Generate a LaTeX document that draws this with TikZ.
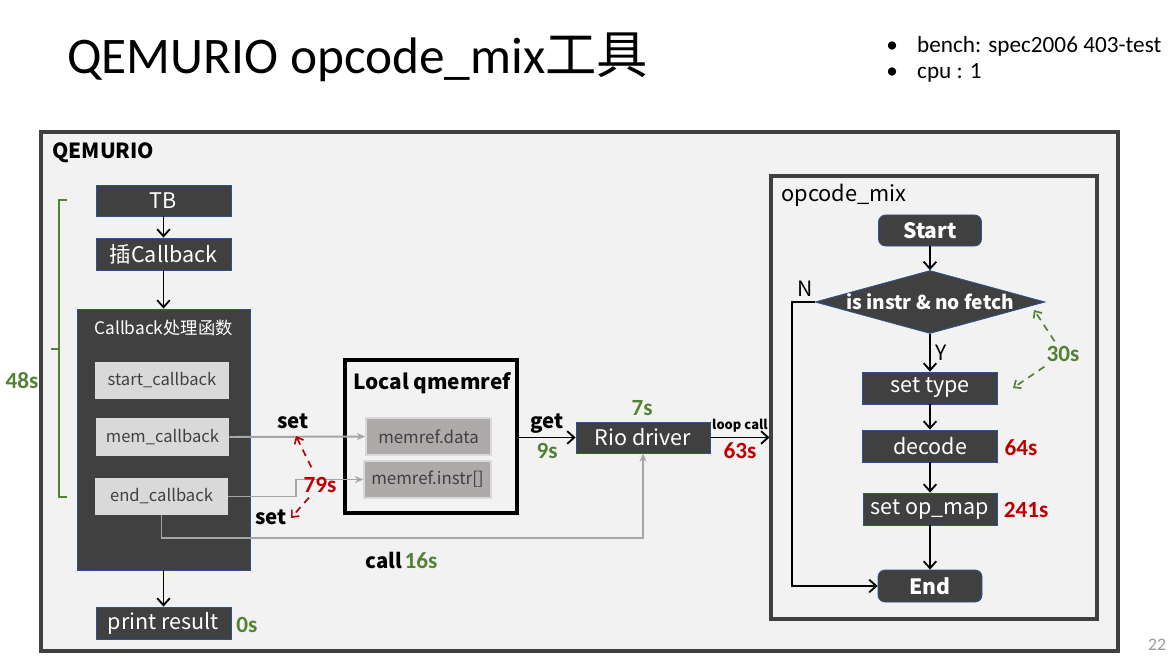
\documentclass[tikz,border=0pt]{standalone}
\usepackage{fontspec}
\setmainfont{Noto Sans CJK SC}
\newfontfamily\calfont{Carlito}
\usetikzlibrary{arrows.meta,shapes.geometric,positioning,calc}

\definecolor{boxdark}{RGB}{64,64,64}
\definecolor{boxedge}{RGB}{47,82,143}
\definecolor{panel}{RGB}{242,242,242}
\definecolor{cbgray}{RGB}{217,217,217}
\definecolor{memgray}{RGB}{174,170,170}
\definecolor{txtgray}{RGB}{64,64,64}
\definecolor{tgreen}{RGB}{84,130,53}
\definecolor{tred}{RGB}{192,0,0}
\definecolor{wire}{RGB}{166,166,166}

\begin{document}
\begin{tikzpicture}[x=0.025cm,y=-0.025cm,
  sz/.style 2 args={minimum width=#1*0.025cm,minimum height=#2*0.025cm},
  frame/.style={draw=boxdark,fill=panel,line width=2.2pt,inner sep=0pt},
  dbox/.style={draw=boxedge,line width=0.6pt,fill=boxdark,text=white,inner sep=0pt,font=\fontsize{15.3}{18}\selectfont},
  lbox/.style={fill=cbgray,text=txtgray,inner sep=0pt,font=\fontsize{11.8}{14}\selectfont},
  mbox/.style={fill=memgray,draw=cbgray,line width=1pt,text=txtgray,inner sep=0pt,font=\fontsize{12}{14}\selectfont},
  hd/.style={font=\bfseries\fontsize{14.8}{17}\selectfont},
  wlbl/.style={font=\bfseries\fontsize{14.5}{17}\selectfont},
  gnum/.style={text=tgreen,font=\calfont\bfseries\fontsize{16.5}{18}\selectfont},
  rnum/.style={text=tred,font=\calfont\bfseries\fontsize{16.5}{18}\selectfont},
  arr/.style={-{Straight Barb[length=5pt,width=9pt]},line width=1.3pt},
  garr/.style={-{Stealth[length=6pt,width=5pt]},draw=wire,line width=1.4pt},
  rdash/.style={-{Straight Barb[length=4pt,width=7pt]},draw=tred,line width=1.2pt,dash pattern=on 5pt off 4pt},
  gdash/.style={-{Straight Barb[length=4pt,width=7pt]},draw=tgreen,line width=1.2pt,dash pattern=on 5pt off 4pt}]

\fill[white] (0,0) rectangle (1174,662);
\useasboundingbox (0,0) rectangle (1174,662);

%%%%%%%%%%%%%%%%%%%%%% TITLE
\node[anchor=west,inner sep=0pt,font=\calfont\fontsize{36.5}{40}\selectfont] (ttl) at (67,57) {QEMURIO opcode\_mix{\rmfamily 工具}};
\node[anchor=west,inner sep=0pt,font=\calfont\fontsize{16.5}{18}\selectfont] (bench) at (886,46) {\makebox[22pt][l]{•}bench: spec2006 403-test};
\node[anchor=west,inner sep=0pt,font=\calfont\fontsize{16.5}{18}\selectfont] (cpu) at (886,73) {\makebox[22pt][l]{•}cpu : 1};

%%%%%%%%%%%%%%%%%%%%%% QEMURIO
\node[frame,sz={1077}{519}] (qemu) at (579.5,391.5) {};
\node[hd,anchor=west,inner sep=0pt] (qemut) at (52,153) {QEMURIO};

\node[dbox,sz={135}{31}] (tb) at (163.5,200.5) {TB};
\node[dbox,sz={135}{32}] (ins) at (163.5,254) {插Callback};
\draw[arr] (tb) -- (ins);

\node[dbox,sz={173}{261}] (cbk) at (163.5,439.5) {};
\node[text=white,font=\fontsize{12.3}{15}\selectfont] (cbkt) at (163.5,328) {Callback处理函数};
\draw[arr] (ins) -- (cbk);
\node[lbox,sz={134}{37}] (scb) at (162,380.5) {start\_callback};
\node[lbox,sz={133}{38}] (mcb) at (162.5,437) {mem\_callback};
\node[lbox,sz={133}{37}] (ecb) at (161.5,496.5) {end\_callback};

\node[dbox,sz={135}{32}] (prt) at (163.5,623) {print result};
\draw[arr] (cbk) -- (prt);
\node[gnum,anchor=west,inner sep=0pt] (t0) at (236,625) {0s};

% bracket over the callback part
\draw[tgreen,line width=1pt] (67,200) -- (59,200) -- (59,497) -- (67,497) (59,349) -- (51,349);
\node[gnum] (t48) at (22,381) {48s};

%%%%%%%%%%%%%%%%%%%%%% LOCAL QMEMREF
\node[draw=black,fill=panel,line width=2.2pt,sz={172}{153}] (qmem) at (431,436.5) {};
\node[hd] (qmemt) at (432,383) {Local qmemref};
\node[mbox,sz={125}{37}] (mdata) at (428.5,436.5) {memref.data};
\node[mbox,sz={127}{37}] (minstr) at (427.5,479.5) {memref.instr[]};

\draw[garr] (mcb.east) -- (mdata.west);
\draw[garr] (ecb.east) -- ++(68,0) |- (minstr.west);
\node[wlbl] (set1) at (293,421) {set};
\node[wlbl] (set2) at (271,517) {set};
\node[rnum] (t79) at (320,485) {79s};
\coordinate (s79a) at (296,436);
\coordinate (s79b) at (291,518);
\draw[rdash,shorten <=4pt] (t79) -- (s79a);
\draw[rdash] (t79) -- (s79b);

%%%%%%%%%%%%%%%%%%%%%% RIO DRIVER
\node[dbox,sz={134}{31}] (rio) at (643,437.5) {Rio driver};
\node[gnum] (t7) at (642,408) {7s};
\draw[arr] (qmem.east |- rio.west) -- node[wlbl,above,yshift=-1pt] (get) {get} node[gnum,below] (t9) {9s} (rio.west);
\draw[garr] (ecb.south) -- ++(0,23) -| (rio.south);
\node[wlbl] (call) at (384,560) {call};
\node[gnum] (t16) at (421,561) {16s};

%%%%%%%%%%%%%%%%%%%%%% OPCODE_MIX
\node[frame,sz={326}{443}] (opm) at (934,397.5) {};
\node[anchor=west,inner sep=0pt,font=\fontsize{15.5}{18}\selectfont] (opmt) at (781,195) {opcode\_mix};
\draw[arr] (rio.east) -- node[above,font=\bfseries\fontsize{9.2}{11}\selectfont] (loop) {loop call} node[rnum,below] (t63) {63s} (rio.east -| opm.west);

\node[dbox,rounded corners=5pt,sz={103}{31},font=\bfseries\fontsize{15}{18}\selectfont] (start) at (930,230.5) {Start};
\node[diamond,fill=boxdark,draw=boxedge,line width=0.6pt,inner sep=0pt,sz={230}{63}] (isq) at (930,302) {};
\node[text=white,font=\bfseries\fontsize{13.6}{17}\selectfont] (isqt) at (isq) {is instr \& no fetch};
\node[dbox,sz={135}{32}] (stype) at (930,388) {set type};
\node[dbox,sz={135}{32}] (dcd) at (930,446) {decode};
\node[dbox,sz={134}{32}] (sop) at (930,509) {set op\_map};
\node[dbox,rounded corners=5pt,sz={104}{32},font=\bfseries\fontsize{15}{18}\selectfont] (end) at (930,586) {End};

\draw[arr] (start) -- (isq);
\draw[arr] (isq) -- node[right,font=\fontsize{15}{17}\selectfont,inner sep=3pt] (yes) {Y} (stype);
\draw[arr] (stype) -- (dcd);
\draw[arr] (dcd) -- (sop);
\draw[arr] (sop) -- (end);
\draw[arr] (isq.west) -- ++(-23,0) |- (end.west);
\node[font=\fontsize{15}{17}\selectfont] (no) at (805,289) {N};

\node[rnum] (t64) at (1021,448) {64s};
\node[rnum] (t241) at (1026,510) {241s};
\node[gnum] (t30) at (1063,354) {30s};
\coordinate (g30a) at (1034,310);
\coordinate (g30b) at (1013,388);
\draw[gdash] (t30) -- (g30a);
\draw[gdash] (t30) -- (g30b);

\node[text=gray!80,font=\calfont\fontsize{12.5}{14}\selectfont] (pg) at (1157,645) {22};

\end{tikzpicture}
\end{document}
